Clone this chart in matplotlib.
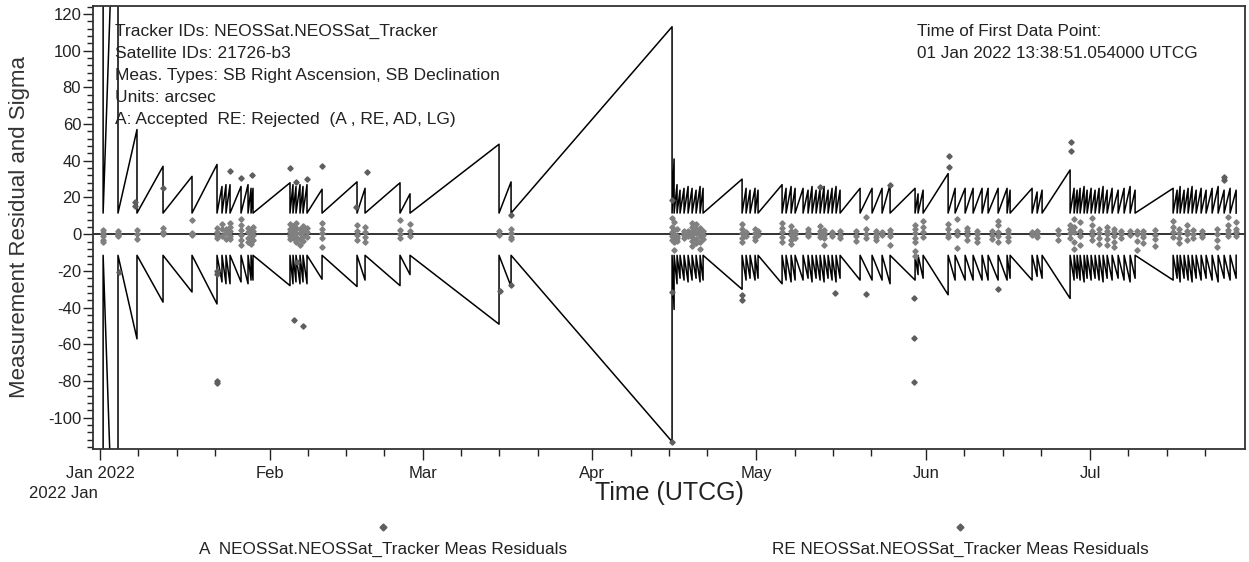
import datetime as dt
import numpy as np
import matplotlib
matplotlib.use("Agg")
import matplotlib.pyplot as plt
import matplotlib.dates as mdates
from matplotlib.ticker import MultipleLocator, FuncFormatter
from matplotlib.lines import Line2D

plt.rcParams["font.family"] = ["Liberation Sans", "DejaVu Sans"]
plt.rcParams["axes.unicode_minus"] = False

# ---------------- data (days since 2022-01-01 00:00 UTCG) ----------------
sigma_floor = 11.5
sigma_start = 1000.0
pass_days = [0.57, 3.29, 6.76, 11.52, 16.82, 21.39, 22.30, 23.03, 23.77, 25.78,
             27.06, 27.61, 27.97, 34.73, 35.28, 35.83, 36.56, 37.11, 37.84, 40.59,
             46.98, 48.45, 54.84, 56.67, 72.94, 75.14, 104.57, 104.94, 105.48, 106.03,
             106.76, 107.50, 108.23, 108.96, 109.69, 110.24, 117.37, 118.10, 118.83, 119.74,
             120.29, 124.68, 125.41, 126.33, 127.06, 128.52, 129.43, 130.16, 130.90, 131.63,
             132.36, 133.09, 133.82, 134.55, 135.28, 138.94, 141.13, 142.96, 144.42, 148.99,
             149.54, 150.46, 155.03, 156.31, 158.14, 159.60, 161.24, 162.34, 164.17, 165.81,
             166.36, 170.38, 171.30, 172.21, 177.33, 178.06, 178.61, 179.16, 179.89, 180.44,
             181.17, 181.90, 182.63, 183.36, 184.10, 185.01, 186.11, 187.20, 188.30, 189.21,
             196.16, 196.89, 197.44, 198.17, 198.90, 199.63, 200.37, 201.28, 202.19, 203.29,
             204.39, 205.48, 206.58, 207.68]
# sigma value reached just before each pass (from the 2nd pass on)
pass_peaks = [250.0, 57.0, 37.0, 31.5, 38.0, 26.0, 27.0, 27.0, 26.0,
              27.0, 25.0, 25.0, 28.0, 27.0, 26.0, 27.0, 26.0, 27.0, 24.5,
              28.5, 25.0, 28.0, 22.0, 49.0, 28.5, 113.0, 41.0, 27.0, 24.0,
              25.0, 26.0, 25.0, 24.0, 26.0, 25.0, 30.0, 25.0, 24.0, 25.0,
              24.0, 27.0, 25.0, 26.0, 25.0, 25.0, 24.0, 26.0, 24.0, 25.0,
              26.0, 24.0, 25.0, 26.0, 24.0, 25.0, 25.0, 25.0, 27.0, 25.0,
              22.0, 24.0, 33.0, 25.0, 25.0, 25.0, 25.0, 25.0, 25.0, 25.0,
              24.0, 25.0, 23.0, 24.0, 35.0, 25.0, 24.0, 25.0, 26.0, 24.0,
              25.0, 24.0, 25.0, 26.0, 24.0, 25.0, 24.0, 25.0, 26.0, 24.0,
              25.0, 24.0, 26.0, 24.0, 25.0, 26.0, 24.0, 25.0, 24.0, 25.0,
              26.0, 24.0, 25.0, 24.0]

# accepted residuals (A)
acc_days = (
    [0.57] * 5 + [3.29] * 5 + [6.76] * 3 + [11.52] * 3 + [16.82] * 4 + [21.39] * 4 +
    [22.30] * 3 + [23.03] * 4 + [23.77] * 5 + [25.78] * 6 + [27.06] * 4 + [27.61] * 4 +
    [27.97] * 4 + [34.73] * 5 + [35.28] * 4 + [35.83] * 5 + [36.56] * 4 + [37.11] * 4 +
    [37.84] * 3 + [40.59] * 5 + [46.98] * 4 + [48.45] * 4 + [54.84] * 4 + [56.67] * 3 +
    [72.94] * 2 + [75.14] * 4 + [104.57] * 5 + [104.94] * 6 + [105.48] * 4 + [106.76] * 4 +
    [107.50] * 2 + [108.23] * 7 + [108.96] * 5 + [109.69] * 5 + [110.24] * 3 + [117.37] * 5 +
    [118.10] * 2 + [119.74] * 4 + [120.29] * 2 + [124.68] * 5 + [126.33] * 5 + [127.06] * 3 +
    [129.43] * 4 + [131.63] * 4 + [132.36] * 5 + [133.82] * 3 + [135.28] * 3 + [138.11] * 3 +
    [139.94] * 4 + [141.86] * 4 + [142.96] * 2 + [144.42] * 4 + [148.99] * 7 + [150.46] * 4 +
    [155.03] * 4 + [156.68] * 4 + [158.50] * 4 + [160.33] * 4 + [163.07] * 3 + [164.17] * 5 +
    [166.00] * 4 + [170.38] * 2 + [171.30] * 3 + [175.14] * 3 + [177.33] * 4 + [178.06] * 5 +
    [179.16] * 4 + [181.35] * 5 + [182.63] * 4 + [184.10] * 5 + [185.38] * 5 + [186.66] * 3 +
    [188.30] * 2 + [189.57] * 4 + [190.68] * 4 + [192.87] * 4 + [196.16] * 4 + [197.26] * 4 +
    [198.72] * 4 + [199.82] * 3 + [201.46] * 3 + [204.20] * 4 + [206.22] * 5 + [207.68] * 4
)
acc_vals = [
    2.2, 0.5, -0.8, -3.3, -4.0,   1.5, 0.4, -0.5, -1.2, 0.0,   2.2, 0.3, -2.8,
    3.6, 1.3, 0.2,   0.6, -0.4, 0.1, 7.8,   3.6, 1.0, -1.8, -0.5,
    5.8, 2.9, -1.0,   3.0, 0.5, -2.4, 1.2,   6.2, 4.1, 1.5, -0.8, -2.6,
    8.5, 5.0, 2.2, -0.5, -3.2, -5.8,   3.5, 1.0, -1.8, -4.0,   2.5, 0.0, -2.5, -5.5,
    4.0, 1.8, -0.6, -3.0,   5.5, 3.0, 1.0, -1.0, -2.5,   4.2, 2.0, 0.0, -2.0,
    6.0, 3.5, 0.8, -1.5, -4.0,   3.0, 0.5, -2.5, -6.0,   4.5, 2.0, -1.0, -3.5,
    3.5, 1.0, -1.5,   6.0, 3.0, 0.5, -2.0, -7.0,   5.0, 2.0, -0.5, -3.0,
    3.8, 1.0, -1.5, -4.5,   7.5, 2.5, 0.0, -2.0,   5.5, 1.5, -1.0,
    1.5, -0.5,   3.0, 0.5, -1.5, -2.5,   9.0, 4.0, 1.0, -1.0, -3.0,
    6.5, 2.5, 0.0, -2.0, -4.5, -8.5,   3.0, -1.0, -2.0, -3.5,   2.0, 0.5, -0.5, -2.0,
    1.5, -1.0,   6.0, 4.0, 1.5, 0.0, -1.5, -3.5, -6.5,   5.5, 3.0, 0.5, -2.5, -5.0,
    3.5, 1.0, -1.0, -4.0, -8.0,   2.0, -0.5, -2.5,   5.5, 3.0, 0.5, -2.0, -4.5,
    1.0, -1.0,   3.0, 0.5, -1.5, -3.0,   1.5, -0.5,   6.0, 3.5, 1.0, -1.5, -4.5,
    4.5, 2.0, -0.5, -3.0, -5.5,   2.0, 0.0, -2.0,   3.0, 1.0, 0.0, -1.0,
    4.5, 1.5, 0.0, -1.5,   2.5, 0.5, -0.5, -2.0, -6.0,   1.0, 0.0, -1.0,
    1.5, -0.5, -2.0,   1.5, -1.0, -3.5,   9.4, 3.0, 0.0, -2.0,   2.0, 0.0, -1.5, -3.0,
    1.0, -0.5,   2.5, 0.5, -1.0, -6.0,   5.0, 3.0, 0.5, -2.0, -4.5, -9.0, -12.0,
    7.0, 4.0, 1.0, -1.5,   5.5, 3.0, 0.0, -1.5,   8.5, 2.0, -0.5, -7.5,
    3.5, 1.5, -0.5, -3.0,   2.0, 0.0, -2.0, -4.0,   1.5, -0.5, -2.5,
    7.0, 5.0, 1.0, -1.0, -4.0,   2.5, 0.5, -1.5, -3.5,   1.0, -0.5,   2.0, 0.0, -1.5,
    2.5, 0.0, -3.0,   5.0, 3.0, 0.5, -2.0,   8.5, 4.0, 1.0, -4.0, -8.0,
    6.5, 2.0, -1.0, -6.0,   9.0, 5.0, 2.0, -0.5, -3.0,   3.0, 0.5, -2.0, -5.5,
    4.0, 2.0, 0.0, -2.5, -6.0,   3.0, 1.0, -1.0, -4.0, -7.0,   2.0, 0.0, -2.0,
    1.5, -0.5,   2.0, 0.0, -3.5, -8.5,   1.5, 0.0, -1.5, -5.0,   2.5, -0.5, -2.5, -6.5,
    7.0, 4.0, 1.0, -1.5,   3.0, 0.5, -2.0, -5.0,   5.0, 2.0, 0.0, -3.0,
    2.5, 0.0, -2.0,   1.5, -0.5, -1.5,   3.0, 0.0, -3.0, -7.0,
    9.5, 5.0, 2.5, 0.5, -1.0,   6.5, 3.0, 1.0, -1.0,
]

# rejected residuals (RE)
rej_days = [6.40, 6.40, 11.52, 23.77, 25.78, 27.79, 34.73, 35.83, 37.84, 40.59,
            48.81, 46.80, 3.47, 21.39, 21.39, 21.39, 21.39, 36.01, 35.46, 37.11,
            73.13, 75.14, 75.14, 104.57, 104.57, 104.57, 117.37, 117.37, 131.63, 134.37,
            139.94, 144.42, 148.81, 148.81, 148.81, 155.21, 155.21, 164.17, 177.51, 177.51,
            205.48, 205.48]
rej_vals = [17.6, 15.4, 25.0, 34.5, 30.5, 32.0, 36.0, 28.5, 30.3, 37.0,
            34.0, 15.0, -20.6, -21.8, -20.0, -80.0, -81.3, -15.0, -46.5, -50.0,
            -31.0, -27.8, 10.4, 18.5, -31.4, -113.0, -33.0, -36.0, 25.8, -32.0,
            -32.3, 26.7, -34.5, -56.3, -80.3, 42.5, 36.7, -30.0, 50.3, 45.2,
            30.9, 29.4]

info_lines = ["Tracker IDs: NEOSSat.NEOSSat_Tracker",
              "Satellite IDs: 21726-b3",
              "Meas. Types: SB Right Ascension, SB Declination",
              "Units: arcsec",
              "A: Accepted  RE: Rejected  (A , RE, AD, LG)"]
first_point_lines = ["Time of First Data Point:",
                     "01 Jan 2022 13:38:51.054000 UTCG"]
legend_labels = ["A  NEOSSat.NEOSSat_Tracker Meas Residuals",
                 "RE NEOSSat.NEOSSat_Tracker Meas Residuals"]

# ---------------- figure ----------------
W, H = 1249, 562
fig = plt.figure(figsize=(W / 100, H / 100), dpi=100)
ax = fig.add_axes([93 / W, 1 - 449 / H, (1245 - 93) / W, (449 - 6) / H])

base = mdates.date2num(dt.datetime(2022, 1, 1))

# sigma sawtooth
st = [pass_days[0], pass_days[0]]
sv = [sigma_start, sigma_floor]
for t, p in zip(pass_days[1:], pass_peaks):
    st += [t, t]
    sv += [p, sigma_floor]
st = base + np.array(st)
sv = np.array(sv)
ax.plot(st, sv, color="black", lw=1.1, zorder=2)
ax.plot(st, -sv, color="black", lw=1.1, zorder=2)

ax.axhline(0, color="#222222", lw=1.3, zorder=1)

ax.plot(base + np.array(acc_days), acc_vals, linestyle="none", marker="D",
        ms=2.7, color="#808080", mec="#808080", zorder=3)
ax.plot(base + np.array(rej_days), rej_vals, linestyle="none", marker="D",
        ms=2.7, color="#5e5e5e", mec="#5e5e5e", zorder=3)

ax.set_xlim(base - 1.28, base + 209.3)
ax.set_ylim(-117, 124.3)

ax.xaxis.set_major_locator(mdates.MonthLocator())
ax.xaxis.set_minor_locator(mdates.DayLocator(bymonthday=[8, 15, 22]))


def month_fmt(x, pos):
    d = mdates.num2date(x)
    return d.strftime("%b %Y") if d.month == 1 else d.strftime("%b")


ax.xaxis.set_major_formatter(FuncFormatter(month_fmt))
ax.yaxis.set_major_locator(MultipleLocator(20))
ax.yaxis.set_minor_locator(MultipleLocator(4))
ax.yaxis.set_major_formatter(FuncFormatter(lambda v, p: f"{v:.0f}"))

ax.tick_params(axis="both", which="both", direction="out", color="#222222",
               labelcolor="#222222", labelsize=12, width=1.0)
ax.tick_params(axis="y", which="major", length=7.5, pad=1)
ax.tick_params(axis="y", which="minor", length=4.5)
ax.tick_params(axis="x", which="major", length=8, pad=4)
ax.tick_params(axis="x", which="minor", length=5)
for s in ax.spines.values():
    s.set_color("#333333")
    s.set_linewidth(1.3)

ax.set_ylabel("Measurement Residual and Sigma", fontsize=16, color="#333333",
              labelpad=13)
fig.text(669 / W, 1 - 493 / H, "Time (UTCG)", fontsize=18, color="#222222",
         ha="center", va="center")
fig.text(63 / W, 1 - 493 / H, "2022 Jan", fontsize=12, color="#222222",
         ha="center", va="center")

for i, line in enumerate(info_lines):
    fig.text(115 / W, 1 - (31.5 + 22 * i) / H, line, fontsize=12.5, color="#222222",
             ha="left", va="center")
for i, line in enumerate(first_point_lines):
    fig.text(917 / W, 1 - (31.5 + 21.5 * i) / H, line, fontsize=12.3, color="#222222",
             ha="left", va="center")

for xc, lab, col in zip([383, 960], legend_labels, ["#5e5e5e", "#5e5e5e"]):
    fig.add_artist(Line2D([xc / W], [1 - 527 / H], transform=fig.transFigure,
                          marker="D", ms=3.5, color=col, linestyle="none"))
    fig.text(xc / W, 1 - 549 / H, lab, fontsize=12.3, color="#222222",
             ha="center", va="center")

fig.savefig("out.png", dpi=100)
